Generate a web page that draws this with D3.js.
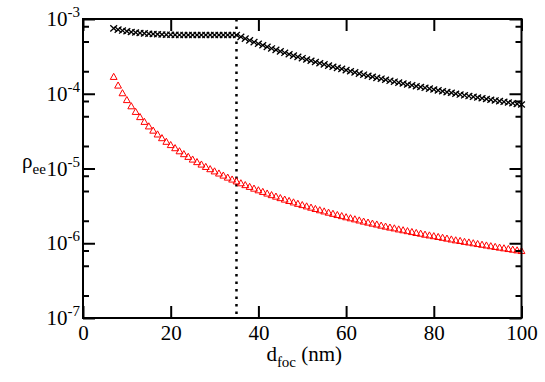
<!DOCTYPE html>
<html>
<head>
<meta charset="utf-8">
<script src="https://cdn.jsdelivr.net/npm/d3@7"></script>
<style>
  html, body { margin: 0; padding: 0; background: #fff; }
</style>
</head>
<body>
<svg id="chart" width="545" height="382"></svg>
<script>
// ---- data ----
const dValues = [7,8,9,10,11,12,13,14,15,16,17,18,19,20,21,22,23,24,25,26,27,28,29,30,31,32,33,34,35,36,37,38,39,40,41,42,43,44,45,46,47,48,49,50,51,52,53,54,55,56,57,58,59,60,61,62,63,64,65,66,67,68,69,70,71,72,73,74,75,76,77,78,79,80,81,82,83,84,85,86,87,88,89,90,91,92,93,94,95,96,97,98,99,100];
const rhoCross = [7.5e-4,7.2e-4,7.0e-4,6.85e-4,6.7e-4,6.6e-4,6.5e-4,6.42e-4,6.35e-4,6.3e-4,6.25e-4,6.2e-4,6.17e-4,6.15e-4,6.13e-4,6.12e-4,6.11e-4,6.1e-4,6.1e-4,6.1e-4,6.1e-4,6.1e-4,6.1e-4,6.1e-4,6.1e-4,6.1e-4,6.1e-4,6.1e-4,6.1e-4,
  5.77e-4,5.46e-4,5.17e-4,4.91e-4,4.67e-4,4.45e-4,4.24e-4,4.04e-4,3.86e-4,3.69e-4,3.53e-4,3.38e-4,3.24e-4,3.11e-4,2.99e-4,2.87e-4,2.76e-4,2.66e-4,2.56e-4,2.47e-4,2.38e-4,2.30e-4,2.22e-4,2.15e-4,2.07e-4,2.0e-4,1.93e-4,1.86e-4,1.80e-4,1.74e-4,1.69e-4,1.63e-4,1.59e-4,1.54e-4,1.49e-4,1.45e-4,1.41e-4,1.37e-4,1.33e-4,1.30e-4,1.26e-4,1.23e-4,1.20e-4,1.17e-4,1.14e-4,1.11e-4,1.08e-4,1.05e-4,1.03e-4,1.0e-4,9.75e-5,9.53e-5,9.31e-5,9.1e-5,8.9e-5,8.7e-5,8.5e-5,8.32e-5,8.14e-5,7.97e-5,7.8e-5,7.64e-5,7.48e-5,7.33e-5,7.18e-5];
const rhoTriangle = [1.69e-4,1.294e-4,1.022e-4,8.28e-5,6.84e-5,5.75e-5,4.90e-5,4.23e-5,3.68e-5,3.23e-5,2.87e-5,2.56e-5,2.29e-5,2.07e-5,1.88e-5,1.71e-5,1.565e-5,1.44e-5,1.325e-5,1.225e-5,1.136e-5,1.056e-5,9.85e-6,9.20e-6,8.62e-6,8.09e-6,7.60e-6,7.16e-6,6.76e-6,6.38e-6,6.03e-6,5.71e-6,5.41e-6,5.14e-6,4.89e-6,4.65e-6,4.43e-6,4.23e-6,4.04e-6,3.86e-6,3.70e-6,3.54e-6,3.39e-6,3.26e-6,3.13e-6,3.01e-6,2.89e-6,2.78e-6,2.68e-6,2.58e-6,2.49e-6,2.40e-6,2.32e-6,2.24e-6,2.17e-6,2.10e-6,2.03e-6,1.96e-6,1.90e-6,1.84e-6,1.79e-6,1.73e-6,1.68e-6,1.63e-6,1.59e-6,1.54e-6,1.50e-6,1.46e-6,1.42e-6,1.38e-6,1.35e-6,1.31e-6,1.28e-6,1.25e-6,1.22e-6,1.19e-6,1.16e-6,1.13e-6,1.10e-6,1.08e-6,1.05e-6,1.03e-6,1.005e-6,9.82e-7,9.60e-7,9.39e-7,9.18e-7,8.98e-7,8.79e-7,8.60e-7,8.42e-7,8.25e-7,8.08e-7,7.92e-7];
const xTicks = [0,20,40,60,80,100];
const yMajorTicks = [1e-7,1e-6,1e-5,1e-4,1e-3];
const yMinorTicks = [2e-7,5e-7,8e-7,2e-6,5e-6,8e-6,2e-5,5e-5,8e-5,2e-4,5e-4,8e-4];
const yExponents = [-7,-6,-5,-4,-3];
const markerLine = 35;

// ---- layout ----
const FONT = '"Liberation Serif"';
const svg = d3.select("#chart").style("font-family", FONT);
const W = 545, H = 382;
const m = {left: 83, top: 19, right: 23.5, bottom: 64};
const iw = W - m.left - m.right, ih = H - m.top - m.bottom;
const x = d3.scaleLinear().domain([0, 100]).range([m.left, m.left + iw]);
const y = d3.scaleLog().domain([1e-7, 1e-3]).range([m.top + ih, m.top]);

const pts = dValues.map((d, i) => ({d, c: rhoCross[i], t: rhoTriangle[i]}));

// dotted vertical line
svg.append("line")
  .attr("x1", x(markerLine)).attr("x2", x(markerLine))
  .attr("y1", y(1e-3)).attr("y2", y(1e-7))
  .attr("stroke", "#000").attr("stroke-width", 2.5)
  .attr("stroke-dasharray", "2.5,5");

// crosses
const cs = 3.4;
svg.append("g").selectAll("path").data(pts).join("path")
  .attr("d", p => {
    const cx = x(p.d), cy = y(p.c);
    return `M${cx-cs},${cy-cs*0.9}L${cx+cs},${cy+cs*0.9}M${cx-cs},${cy+cs*0.9}L${cx+cs},${cy-cs*0.9}`;
  })
  .attr("stroke", "#000").attr("stroke-width", 1.3).attr("fill", "none");

// triangles
const ts = 3.4;
svg.append("g").selectAll("path").data(pts).join("path")
  .attr("d", p => {
    const cx = x(p.d), cy = y(p.t);
    return `M${cx},${cy-ts}L${cx+ts},${cy+ts*0.8}L${cx-ts},${cy+ts*0.8}Z`;
  })
  .attr("stroke", "#ff0000").attr("stroke-width", 1).attr("fill", "none");

// axes
const axStyle = sel => {
  sel.attr("font-family", null);
  sel.select(".domain").remove();
  sel.selectAll(".tick line").attr("stroke", "#000").attr("stroke-width", 2);
  sel.selectAll("text").style("font-family", FONT).style("font-size", "21px").attr("fill", "#000");
};

const xb = svg.append("g").attr("transform", `translate(0,${m.top+ih})`)
  .call(d3.axisBottom(x).tickValues(xTicks).tickSize(-12).tickFormat(d3.format("d")));
axStyle(xb);
xb.selectAll("text").attr("dy", "0em").attr("y", 22);

const xt = svg.append("g").attr("transform", `translate(0,${m.top})`)
  .call(d3.axisTop(x).tickValues(xTicks).tickSize(-12).tickFormat(""));
axStyle(xt);

const yl = svg.append("g").attr("transform", `translate(${m.left},0)`)
  .call(d3.axisLeft(y).tickValues(yMajorTicks).tickSize(-12).tickFormat(""));
axStyle(yl);
const ylm = svg.append("g").attr("transform", `translate(${m.left},0)`)
  .call(d3.axisLeft(y).tickValues(yMinorTicks).tickSize(-6).tickFormat(""));
axStyle(ylm);
const yr = svg.append("g").attr("transform", `translate(${m.left+iw},0)`)
  .call(d3.axisRight(y).tickValues(yMajorTicks).tickSize(-12).tickFormat(""));
axStyle(yr);
const yrm = svg.append("g").attr("transform", `translate(${m.left+iw},0)`)
  .call(d3.axisRight(y).tickValues(yMinorTicks).tickSize(-6).tickFormat(""));
axStyle(yrm);

// y labels with superscripts
yMajorTicks.forEach((v, i) => {
  const t = svg.append("text")
    .attr("x", m.left - 3).attr("y", y(v) + 7)
    .attr("text-anchor", "end")
    .style("font-family", FONT).style("font-size", "21px").attr("fill", "#000");
  t.append("tspan").text("10");
  t.append("tspan").style("font-size", "15px").attr("dy", -9).text(String(yExponents[i]));
});

// frame
svg.append("rect").attr("x", m.left).attr("y", m.top).attr("width", iw).attr("height", ih)
  .attr("fill", "none").attr("stroke", "#000").attr("stroke-width", 2);

// axis titles
const xl = svg.append("text").attr("x", x(50) + 2).attr("y", 361)
  .style("font-family", FONT).style("font-size", "21px")
  .attr("text-anchor", "middle").attr("fill", "#000");
xl.append("tspan").text("d");
xl.append("tspan").style("font-size", "15px").attr("dy", 6).text("foc");
xl.append("tspan").attr("dy", -6).text(" (nm)");

const ylab = svg.append("text").attr("x", 22).attr("y", 168)
  .style("font-family", FONT).style("font-size", "21px").attr("fill", "#000");
ylab.append("tspan").text("ρ");
ylab.append("tspan").style("font-size", "15px").attr("dy", 6).text("ee");
</script>
</body>
</html>
